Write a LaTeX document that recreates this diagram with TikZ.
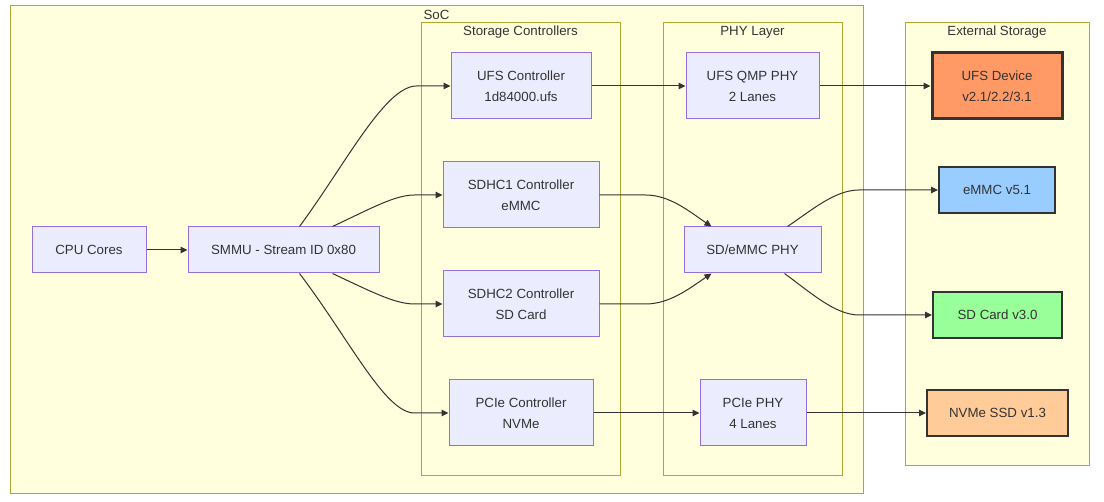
\documentclass[tikz,border=0pt]{standalone}
\usepackage{fontspec}
\setmainfont{Liberation Sans}
\usetikzlibrary{arrows.meta}
\definecolor{clfill}{HTML}{FFFFDE}
\definecolor{clline}{HTML}{AAAA33}
\definecolor{nfill}{HTML}{ECECFF}
\definecolor{nline}{HTML}{9370DB}
\definecolor{txt}{HTML}{333333}
\definecolor{ufsfill}{HTML}{FF9966}
\definecolor{emmcfill}{HTML}{99CCFF}
\definecolor{sdfill}{HTML}{99FF99}
\definecolor{nvmefill}{HTML}{FFCC99}
\begin{document}
\begin{tikzpicture}[x=1pt,y=-1pt,
  font=\fontsize{13.3}{21}\selectfont, text=txt,
  cluster/.style={draw=clline, fill=clfill, line width=1pt},
  lbl/.style={inner sep=0pt, anchor=center},
  box/.style={draw=nline, fill=nfill, line width=1pt, align=center, inner sep=0pt},
  ext/.style={draw=txt, align=center, inner sep=0pt, line width=2pt},
  conn/.style={draw=txt, line width=1pt, -{Triangle[length=7pt,width=6.5pt]}}]
\useasboundingbox (0,0) rectangle (1104,502);
% clusters
\draw[cluster] (10,6) rectangle (863,494);
\node[lbl] (soclbl) at (436.5,15) {SoC};
\draw[cluster] (421,23) rectangle (620,476);
\node[lbl] (sclbl) at (520.5,32) {Storage Controllers};
\draw[cluster] (663,23) rectangle (842,476);
\node[lbl] (phylbl) at (752.5,32) {PHY Layer};
\draw[cluster] (905,23) rectangle (1089,466);
\node[lbl] (extlbl) at (997,32) {External Storage};
% nodes
\node[box, minimum width=114pt, minimum height=46pt] (cpu) at (89,250) {CPU Cores};
\node[box, minimum width=191pt, minimum height=46pt] (smmu) at (283.5,250) {SMMU - Stream ID 0x80};
\node[box, minimum width=140pt, minimum height=66pt] (ufsc) at (521,86) {UFS Controller\\1d84000.ufs};
\node[box, minimum width=156pt, minimum height=66pt] (sdhc1) at (521,195) {SDHC1 Controller\\eMMC};
\node[box, minimum width=156pt, minimum height=66pt] (sdhc2) at (521,304) {SDHC2 Controller\\SD Card};
\node[box, minimum width=144pt, minimum height=66pt] (pciec) at (521,413) {PCIe Controller\\NVMe};
\node[box, minimum width=133pt, minimum height=66pt] (ufsphy) at (752.5,86) {UFS QMP PHY\\2 Lanes};
\node[box, minimum width=137pt, minimum height=46pt] (sdphy) at (752.5,250) {SD/eMMC PHY};
\node[box, minimum width=106pt, minimum height=66pt] (pciephy) at (753,413) {PCIe PHY\\4 Lanes};
\node[ext, fill=ufsfill, line width=3pt, minimum width=130pt, minimum height=66pt] (ufsdev) at (997,86) {UFS Device\\v2.1/2.2/3.1};
\node[ext, fill=emmcfill, minimum width=116pt, minimum height=46pt] (emmc) at (997,190) {eMMC v5.1};
\node[ext, fill=sdfill, minimum width=129pt, minimum height=46pt] (sd) at (997.5,315) {SD Card v3.0};
\node[ext, fill=nvmefill, minimum width=141pt, minimum height=46pt] (nvme) at (997.5,413) {NVMe SSD v1.3};
% connectors
\draw[conn] (cpu) -- (smmu);
\draw[conn] ([xshift=112pt]smmu.north west) .. controls (345,165) and (385,86) .. ([xshift=-34pt]ufsc.west) -- (ufsc.west);
\draw[conn] ([xshift=145pt]smmu.north west) .. controls (372,208) and (395,195) .. ([xshift=-28pt]sdhc1.west) -- (sdhc1.west);
\draw[conn] ([xshift=145pt]smmu.south west) .. controls (372,292) and (395,304) .. ([xshift=-28pt]sdhc2.west) -- (sdhc2.west);
\draw[conn] ([xshift=112pt]smmu.south west) .. controls (350,340) and (385,413) .. ([xshift=-34pt]pciec.west) -- (pciec.west);
\draw[conn] (ufsc) -- (ufsphy);
\draw[conn] (pciec) -- (pciephy);
\draw[conn] (sdhc1.east) -- ([xshift=46pt]sdhc1.east) .. controls (670,195) and (690,212) .. ([xshift=28pt]sdphy.north west);
\draw[conn] (sdhc2.east) -- ([xshift=46pt]sdhc2.east) .. controls (670,304) and (690,288) .. ([xshift=28pt]sdphy.south west);
\draw[conn] (ufsphy) -- (ufsdev);
\draw[conn] ([xshift=104pt]sdphy.north west) .. controls (812,210) and (835,190) .. ([xshift=-79pt]emmc.west) -- (emmc.west);
\draw[conn] ([xshift=101pt]sdphy.south west) .. controls (810,292) and (835,315) .. ([xshift=-73pt]sd.west) -- (sd.west);
\draw[conn] (pciephy) -- (nvme);
\end{tikzpicture}
\end{document}
